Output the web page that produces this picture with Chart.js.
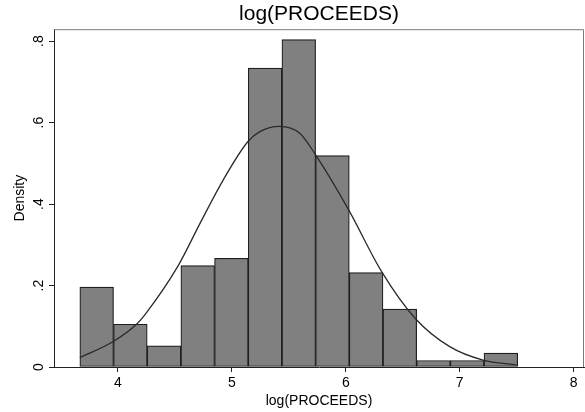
<!DOCTYPE html>
<html>
<head>
<meta charset="utf-8">
<script src="https://cdn.jsdelivr.net/npm/chart.js@4"></script>
<style>
  html, body { margin: 0; padding: 0; background: #fff; }
  #wrap { width: 585px; height: 412px; }
</style>
</head>
<body>
<div id="wrap"><canvas id="histChart" width="585" height="412"></canvas></div>
<script>
// Histogram bins (edges) and bar densities
const binEdges = [3.667, 3.962, 4.258, 4.553, 4.849, 5.144, 5.440, 5.735, 6.031, 6.326, 6.622, 6.917, 7.213, 7.508];
const density = [0.196, 0.105, 0.052, 0.249, 0.267, 0.734, 0.804, 0.519, 0.232, 0.142, 0.016, 0.016, 0.034];

// Points
const curveX = [3.667, 3.956, 4.164, 4.25, 4.53, 4.72, 4.924, 5.14, 5.246, 5.42, 5.596, 5.728, 6.023, 6.313, 6.614, 6.912, 7.204, 7.497];
const curveY = [0.023, 0.062, 0.105, 0.133, 0.249, 0.352, 0.459, 0.553, 0.578, 0.591, 0.574, 0.524, 0.387, 0.235, 0.118, 0.050, 0.017, 0.005];

// Axis ticks
const xTicks = [4, 5, 6, 7, 8];
const yTicks = [0, 0.2, 0.4, 0.6, 0.8];
const yTickLabels = ['0', '.2', '.4', '.6', '.8'];

const FONT = '"Liberation Sans", Arial, Helvetica, sans-serif';

// Bars are centred on each bin
const barData = density.map((d, i) => ({ x: (binEdges[i] + binEdges[i + 1]) / 2, y: d }));
const lineData = curveX.map((x, i) => ({ x: x, y: curveY[i] }));

// Grey frame on top and right of the plot region (Stata style box)
const framePlugin = {
    id: 'frame',
    beforeDatasetsDraw(chart) {
        const { ctx, chartArea: a } = chart;
        ctx.save();
        ctx.strokeStyle = '#7a7a7a';
        ctx.lineWidth = 1;
        ctx.beginPath();
        ctx.moveTo(a.left, a.top + 0.5);
        ctx.lineTo(a.right - 0.5, a.top + 0.5);
        ctx.lineTo(a.right - 0.5, a.bottom);
        ctx.stroke();
        ctx.restore();
    }
};

new Chart(document.getElementById('histChart').getContext('2d'), {
    type: 'bar',
    data: {
        datasets: [{
            type: 'line',
            data: lineData,
            borderColor: '#2a2a2a',
            borderWidth: 1.3,
            pointRadius: 0,
            cubicInterpolationMode: 'monotone',
            fill: false,
            order: 0
        }, {
            type: 'bar',
            data: barData,
            backgroundColor: '#808080',
            borderColor: '#1e1e1e',
            borderWidth: 1.2,
            borderSkipped: false,
            barPercentage: 1,
            categoryPercentage: 1,
            order: 1
        }]
    },
    options: {
        responsive: false,
        animation: false,
        layout: { padding: { left: 0, right: 1, top: 0, bottom: 0 } },
        plugins: {
            legend: { display: false },
            tooltip: { enabled: false },
            title: {
                display: true,
                text: 'log(PROCEEDS)',
                fullSize: false,
                color: '#000',
                font: { family: FONT, size: 21, weight: 'normal', lineHeight: 1.2 },
                padding: { top: 2, bottom: 2 }
            }
        },
        scales: {
            x: {
                type: 'linear',
                min: 3.44,
                max: 8.09,
                offset: false,
                afterBuildTicks: (scale) => { scale.ticks = xTicks.map(v => ({ value: v })); },
                afterFit: (scale) => { scale.height = 45; },
                grid: { offset: false, drawOnChartArea: false, drawTicks: true, tickLength: 5, tickColor: '#222' },
                border: { display: true, color: '#222', width: 1 },
                ticks: {
                    color: '#000',
                    padding: 3,
                    maxRotation: 0,
                    font: { family: FONT, size: 14 }
                },
                title: {
                    display: true,
                    text: 'log(PROCEEDS)',
                    color: '#000',
                    font: { family: FONT, size: 14 },
                    padding: { top: 0, bottom: 2 }
                }
            },
            y: {
                min: 0,
                max: 0.8294,
                afterBuildTicks: (scale) => { scale.ticks = yTicks.map(v => ({ value: v })); },
                afterFit: (scale) => { scale.width = 54; },
                grid: { drawOnChartArea: false, drawTicks: true, tickLength: 5, tickColor: '#222' },
                border: { display: true, color: '#222', width: 1 },
                ticks: {
                    color: '#000',
                    padding: 4,
                    minRotation: 90,
                    maxRotation: 90,
                    crossAlign: 'center',
                    font: { family: FONT, size: 14 },
                    callback: (v) => {
                        const i = yTicks.indexOf(v);
                        return i >= 0 ? yTickLabels[i] : '';
                    }
                },
                title: {
                    display: true,
                    text: 'Density',
                    color: '#000',
                    font: { family: FONT, size: 14 },
                    padding: { top: 12, bottom: 0 }
                }
            }
        }
    },
    plugins: [framePlugin]
});
</script>
</body>
</html>
